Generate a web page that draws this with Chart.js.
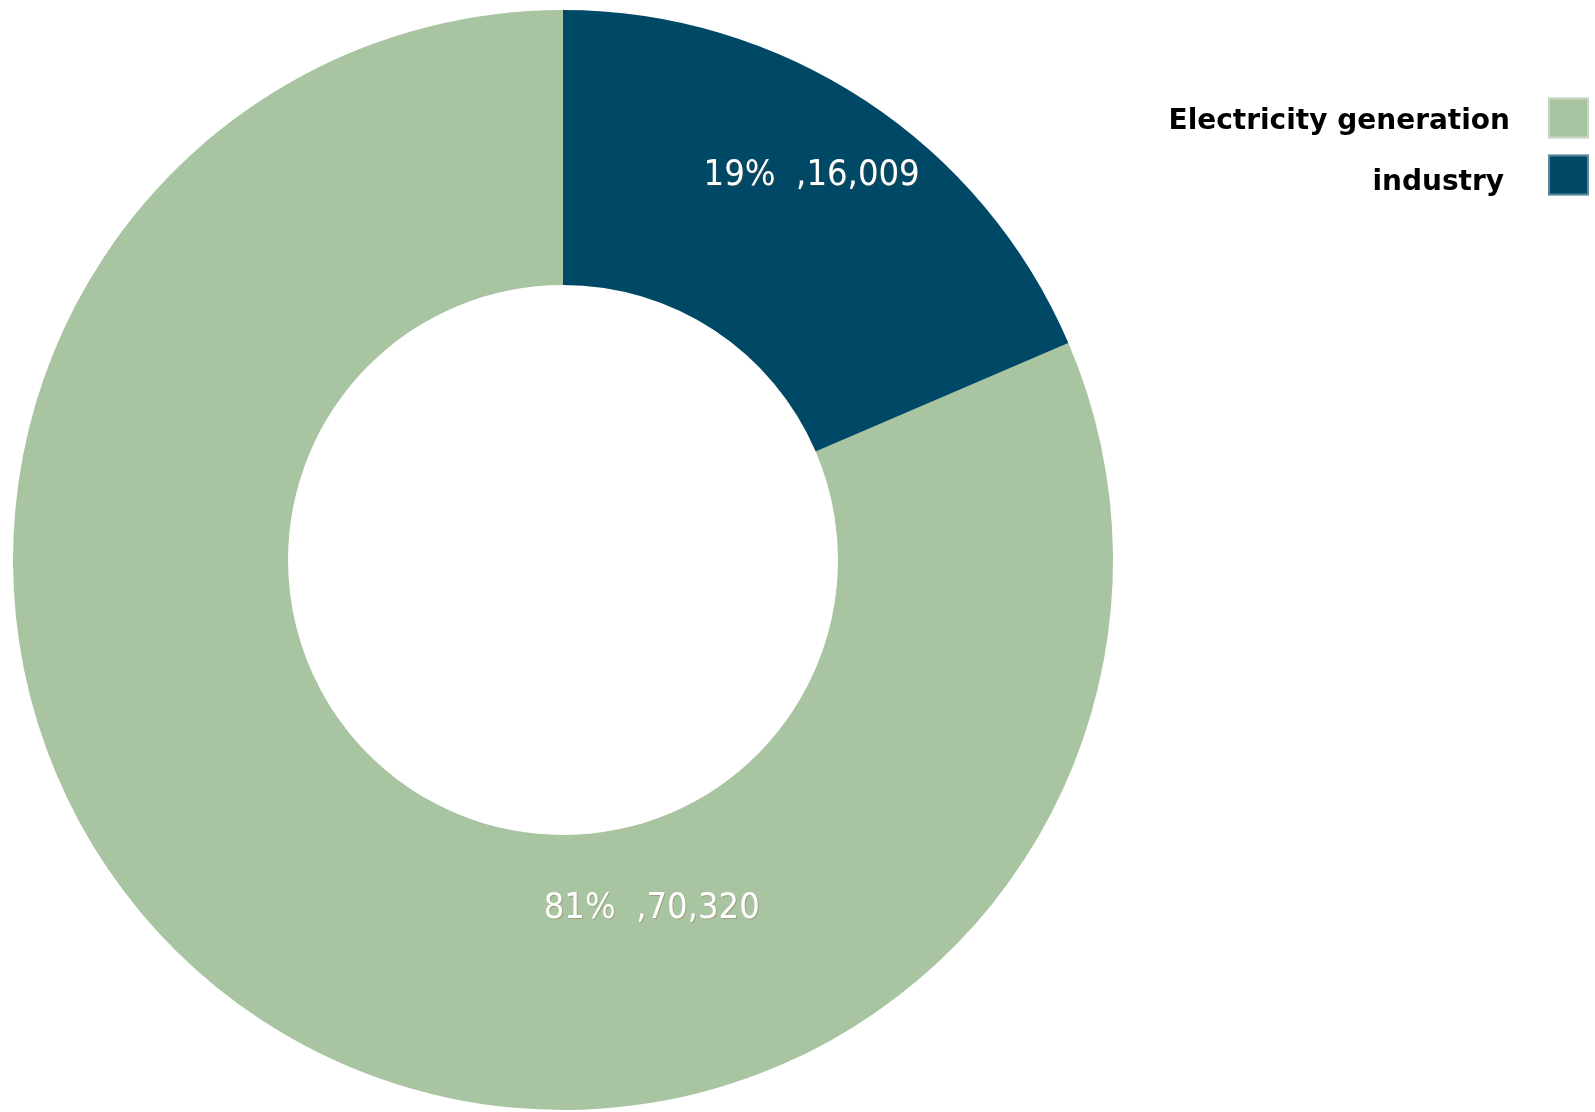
<!DOCTYPE html>
<html>
<head>
<meta charset="utf-8">
<script src="https://cdn.jsdelivr.net/npm/chart.js@4/dist/chart.umd.min.js"></script>
<style>
  html, body { margin: 0; padding: 0; background: #fff; }
  #wrap { width: 1595px; height: 1112px; position: relative; }
</style>
</head>
<body>
<div id="wrap"><canvas id="chart"></canvas></div>
<script>
// data
const categories = ['Electricity generation', 'industry'];
const values = [70320, 16009];
const colors = ['#a8c4a0', '#004966'];

const total = values.reduce((a, b) => a + b, 0);
// industry slice starts at 12 o'clock, electricity follows it
const rotation = values[1] / total * 360;

const fmt = n => n.toLocaleString('en-US');

// slice labels: "pct% ,value"
const sliceLabels = {
    id: 'sliceLabels',
    afterDatasetsDraw(chart, args, opts) {
        const ctx = chart.ctx;
        const meta = chart.getDatasetMeta(0);
        ctx.save();
        ctx.font = opts.font;
        ctx.fillStyle = '#fff';
        ctx.textAlign = 'center';
        ctx.textBaseline = 'middle';
        ctx.shadowColor = 'rgba(120,80,40,0.3)';
        ctx.shadowOffsetX = 1;
        ctx.shadowOffsetY = 1;
        meta.data.forEach((arc, i) => {
            const p = arc.getProps(['x', 'y', 'startAngle', 'endAngle', 'innerRadius', 'outerRadius'], true);
            const a = p.startAngle + (p.endAngle - p.startAngle) * opts.angleFrac[i];
            const r = p.innerRadius + (p.outerRadius - p.innerRadius) * opts.radiusFrac[i];
            const pct = Math.round(values[i] / total * 100);
            ctx.fillText(pct + '%  ,' + fmt(values[i]), p.x + Math.cos(a) * r, p.y + Math.sin(a) * r + 3);
        });
        ctx.restore();
    }
};

// legend on the right, text first then the colour box
const sideLegend = {
    id: 'sideLegend',
    afterDraw(chart, args, opts) {
        const ctx = chart.ctx;
        ctx.save();
        ctx.font = opts.font;
        ctx.textAlign = 'right';
        ctx.textBaseline = 'middle';
        categories.forEach((c, i) => {
            ctx.fillStyle = '#000';
            ctx.fillText(c, opts.textRight[i], opts.textY[i]);
            const y = opts.boxY[i];
            ctx.fillStyle = colors[i];
            ctx.fillRect(opts.boxLeft, y - opts.box / 2, opts.box, opts.box);
            ctx.strokeStyle = 'rgba(255,255,255,0.35)';
            ctx.lineWidth = 2;
            ctx.strokeRect(opts.boxLeft + 1, y - opts.box / 2 + 1, opts.box - 2, opts.box - 2);
        });
        ctx.restore();
    }
};

new Chart(document.getElementById('chart').getContext('2d'), {
    type: 'doughnut',
    data: {
        labels: categories,
        datasets: [{
            data: values,
            backgroundColor: colors,
            borderWidth: 0
        }]
    },
    options: {
        responsive: true,
        maintainAspectRatio: false,
        animation: false,
        rotation: rotation,
        cutout: '50%',
        layout: { padding: { top: 10, bottom: 2, left: 13, right: 482 } },
        plugins: {
            legend: { display: false },
            tooltip: { enabled: false },
            sliceLabels: {
                font: '36px "DejaVu Sans Condensed", "Liberation Sans Narrow", sans-serif',
                angleFrac: [0.337, 0.49],
                radiusFrac: [0.296, 0.673]
            },
            sideLegend: {
                font: 'bold 28px "DejaVu Sans", sans-serif',
                textRight: [1510, 1504],
                textY: [122, 183],
                boxLeft: 1548,
                box: 41,
                boxY: [118, 175]
            }
        }
    },
    plugins: [sliceLabels, sideLegend]
});
</script>
</body>
</html>
